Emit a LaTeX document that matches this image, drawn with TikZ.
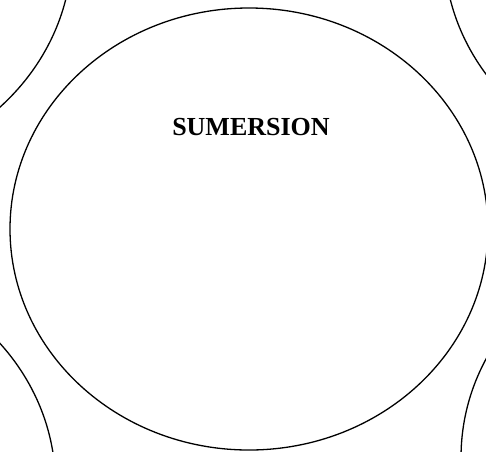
\documentclass[tikz,border=0pt]{standalone}
\usepackage{fontspec}
\setmainfont{Liberation Serif}
\usepackage{tikz}
\usetikzlibrary{shapes.geometric}

\begin{document}
\begin{tikzpicture}[x=1pt,y=-1pt,
  bubble/.style={ellipse,draw=black,line width=1.3pt,inner sep=0pt,minimum width=478pt,minimum height=442pt},
  title/.style={font=\fontsize{26}{31}\selectfont\bfseries,inner sep=0pt}]
\useasboundingbox (0,0) rectangle (486,451);
\clip (0,0) rectangle (486,451);
% neighbours in the corners
\node[bubble] (nw) at (-167,-51) {};
\node[bubble] (ne) at (683,-51) {};
\node[bubble] (sw) at (-183.5,485) {};
\node[bubble] (se) at (700,457.5) {};
% middle one
\node[bubble] (mid) at (249,229) {};
\node[title] (lbl) at (251,127) {SUMERSION};
\end{tikzpicture}
\end{document}
